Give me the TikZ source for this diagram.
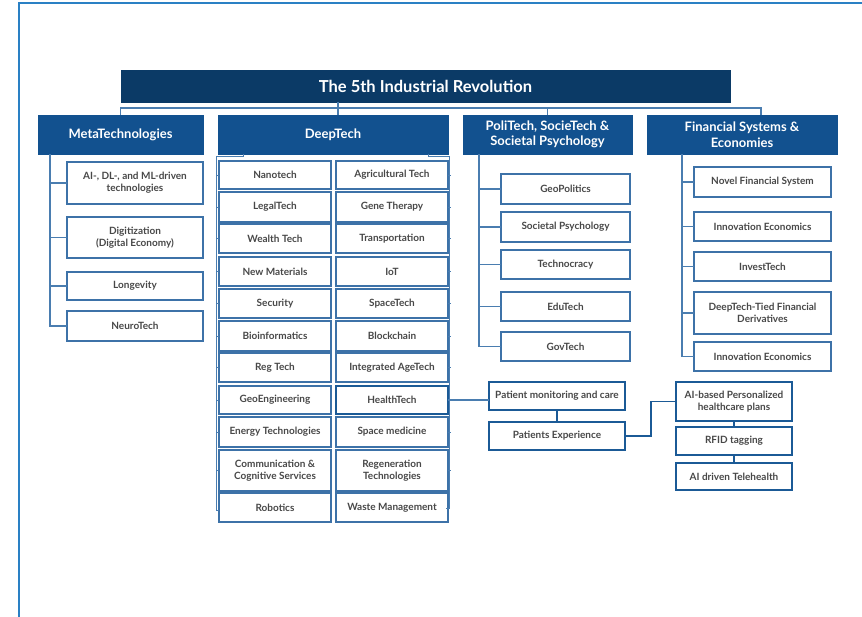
\documentclass[tikz,border=0pt]{standalone}
\usepackage{fontspec}
\setmainfont{Lato}
\definecolor{navy}{HTML}{0B3A66}
\definecolor{catblue}{HTML}{12518F}
\definecolor{itemblue}{HTML}{3D72A8}
\definecolor{darkblue}{HTML}{1B5A96}
\definecolor{lineblue}{HTML}{4A7DB0}
\definecolor{txtgray}{HTML}{484848}
\definecolor{framec}{HTML}{2A80C4}
\tikzset{
  titlebox/.style={fill=navy, draw=navy, text=white, inner sep=0pt, outer sep=0pt, font=\bfseries\fontsize{16.5}{18}\selectfont},
  catbox/.style={fill=catblue, draw=catblue, text=white, inner sep=0pt, outer sep=0pt, align=center, font=\bfseries\fontsize{13}{15.5}\selectfont},
  itembox/.style={fill=white, draw=itemblue, line width=1.1pt, text=txtgray, inner sep=0pt, outer sep=0pt, align=center, font=\bfseries\fontsize{10}{12}\selectfont},
  hbox/.style={itembox, draw=darkblue, line width=1.7pt},
  conn/.style={draw=lineblue, line width=1.2pt},
  hconn/.style={draw=darkblue, line width=1.5pt},
  framel/.style={draw=framec, line width=2pt}
}
\newcommand\bx[7]{\node[#1, minimum width={(#5-#3)*1pt}, minimum height={(#6-#4)*1pt}] (#2) at ({(#3+#5)/2},{(#4+#6)/2}) {#7};}
\begin{document}
\begin{tikzpicture}[x=1pt,y=-1pt]
\useasboundingbox (0,0) rectangle (862,616);
\fill[white] (0,0) rectangle (862,616);
\draw[framel] (19,617) -- (19,3) -- (863,3);

% title and categories
\bx{titlebox}{title}{121}{70}{730}{102}{The 5th Industrial Revolution}
\bx{catbox}{meta}{38}{115}{203}{154}{MetaTechnologies}
\bx{catbox}{deep}{218}{115}{448}{154}{DeepTech}
\bx{catbox}{poli}{463}{115}{632}{154}{PoliTech, SocieTech \&\\Societal Psychology}
\bx{catbox}{fin}{647}{115}{837}{154}{Financial Systems \&\\Economies}

\coordinate (bus) at (0,108);
\draw[conn] (title.south -| 338,0) -- (bus -| 338,0);
\draw[conn] (meta.north) -- (meta.north |- bus) -- (bus -| 761,0) -- (fin.north -| 761,0);
\draw[conn] (bus -| 338,0) -- (deep.north -| 338,0);
\draw[conn] (bus -| poli.north) -- (poli.north);

% MetaTechnologies
\bx{itembox}{m1}{67}{162}{203}{204}{AI-, DL-, and ML-driven\\technologies}
\bx{itembox}{m2}{67}{217}{203}{258}{Digitization\\(Digital Economy)}
\bx{itembox}{m3}{67}{272}{203}{300}{Longevity}
\bx{itembox}{m4}{67}{311}{203}{341}{NeuroTech}
\coordinate (mt) at (50,154);
\draw[conn] (mt) |- (m4.west);
\foreach \i in {1,2,3} \draw[conn] (m\i.west) -- (m\i.west -| mt);

% DeepTech
\def\rowsA{161/189/Nanotech/Agricultural Tech, 192/222/LegalTech/Gene Therapy, 224/253/Wealth Tech/Transportation, 257/286/New Materials/IoT, 289/318/Security/SpaceTech, 321/351/Bioinformatics/Blockchain, 353/382/Reg Tech/Integrated AgeTech}
\foreach \ya/\yb/\ta/\tb [count=\k] in \rowsA {
  \bx{itembox}{L\k}{219}{\ya}{331}{\yb}{\ta}
  \bx{itembox}{R\k}{336}{\ya}{448}{\yb}{\tb}
}
\bx{itembox}{L8}{219}{386}{331}{414}{GeoEngineering}
\bx{hbox}{R8}{336}{386}{448}{414}{HealthTech}
\bx{itembox}{L9}{219}{417}{331}{447}{Energy Technologies}
\bx{itembox}{R9}{336}{417}{448}{447}{Space medicine}
\bx{itembox}{L10}{219}{450}{331}{491}{Communication \&\\Cognitive Services}
\bx{itembox}{R10}{336}{450}{448}{491}{Regeneration\\Technologies}
\bx{itembox}{L11}{219}{493}{331}{522}{Robotics}
\bx{itembox}{R11}{336}{493}{448}{522}{Waste Management}

\coordinate (dl) at (216,156);
\coordinate (dr) at (449,156);
\draw[conn, line width=1pt] ([xshift=25pt]deep.south west) -- ([xshift=25pt]deep.south west |- dl) -- (dl) -- (216,510) -- (219,510);
\draw[conn, line width=1pt] ([xshift=-20pt]deep.south east) -- ([xshift=-20pt]deep.south east |- dr) -- (dr) -- (449,508) -- (446,508);
\foreach \k in {1,...,10} {
  \draw[conn, line width=1pt] (L\k.west) -- ++(-3,0);
  \draw[conn, line width=1pt] (R\k.east) -- ++(3,0);
}

% PoliTech
\bx{itembox}{p1}{501}{174}{630}{204}{GeoPolitics}
\bx{itembox}{p2}{501}{212}{630}{242}{Societal Psychology}
\bx{itembox}{p3}{501}{250}{630}{279}{Technocracy}
\bx{itembox}{p4}{501}{292}{630}{321}{EduTech}
\bx{itembox}{p5}{501}{332}{630}{361}{GovTech}
\coordinate (pt) at (479,154);
\draw[conn] (pt) |- (p5.west);
\foreach \i in {1,...,4} \draw[conn] (p\i.west) -- (p\i.west -| pt);

% Financial
\bx{itembox}{f1}{694}{167}{831}{197}{Novel Financial System}
\bx{itembox}{f2}{694}{212}{831}{241}{Innovation Economics}
\bx{itembox}{f3}{694}{252}{831}{281}{InvestTech}
\bx{itembox}{f4}{694}{292}{831}{334}{DeepTech-Tied Financial\\Derivatives}
\bx{itembox}{f5}{694}{342}{831}{371}{Innovation Economics}
\coordinate (ft) at (682,154);
\draw[conn] (ft) |- (f5.west);
\foreach \i in {1,...,4} \draw[conn] (f\i.west) -- (f\i.west -| ft);

% HealthTech subtree
\bx{hbox}{pm}{489}{382}{625}{410}{Patient monitoring and care}
\bx{hbox}{pe}{489}{422}{625}{450}{Patients Experience}
\bx{hbox}{ai}{676}{382}{792}{421}{AI-based Personalized\\healthcare plans}
\bx{hbox}{rf}{676}{427}{792}{455}{RFID tagging}
\bx{hbox}{tl}{676}{463}{792}{490}{AI driven Telehealth}
\draw[conn] (R8.east) -- (R8.east -| pm.west);
\draw[hconn] (pm.south) -- (pe.north);
\draw[hconn] (pe.east) -| ([xshift=-25pt]ai.west) -- (ai.west);
\draw[hconn] (ai.south) -- (rf.north);
\draw[hconn] (rf.south) -- (tl.north);
\end{tikzpicture}
\end{document}
